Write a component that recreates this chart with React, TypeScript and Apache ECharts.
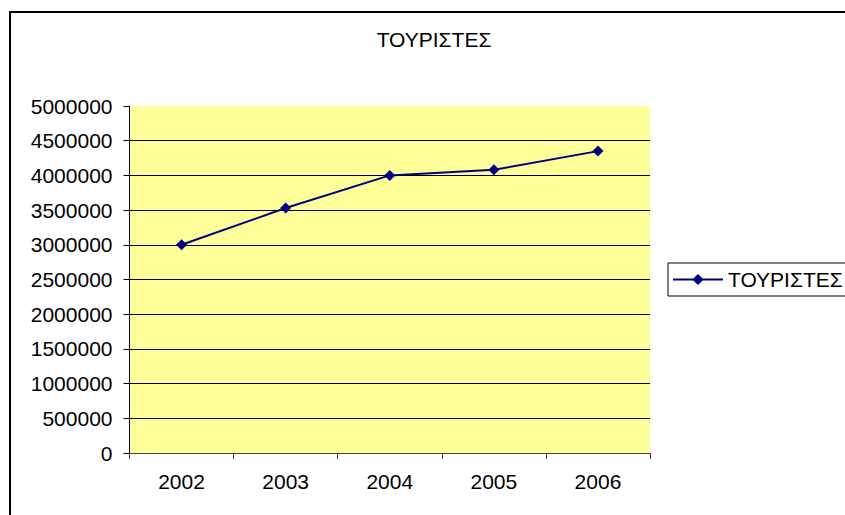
import React, { useEffect, useRef } from "react";
import * as echarts from "echarts";

const years: string[] = ["2002", "2003", "2004", "2005", "2006"];
const tourists: number[] = [3000000, 3530000, 4000000, 4080000, 4350000];
const seriesName = "ΤΟΥΡΙΣΤΕΣ";
const titleText = "ΤΟΥΡΙΣΤΕΣ";

const FONT = "'Liberation Sans', Arial, sans-serif";

export default function App() {
  const ref = useRef<HTMLDivElement>(null);
  useEffect(() => {
    if (!ref.current) return;
    const chart = echarts.init(ref.current, undefined, { renderer: "svg" });
    chart.setOption({
      animation: false,
      backgroundColor: "#ffffff",
      textStyle: { fontFamily: FONT },
      title: {
        text: titleText,
        left: 434,
        top: 29,
        padding: 0,
        textAlign: "center",
        textStyle: { fontFamily: FONT, fontSize: 21, fontWeight: "normal", color: "#000" },
      },
      graphic: [
        {
          type: "rect",
          shape: { x: 10, y: 12, width: 880, height: 540 },
          style: { fill: "none", stroke: "#000", lineWidth: 2 },
          silent: true,
          z: 100,
        },
      ],
      legend: {
        left: 668,
        top: 263,
        orient: "vertical",
        padding: [6, 30, 6, 4],
        itemWidth: 50,
        itemHeight: 14,
        itemGap: 5,
        borderColor: "#000",
        borderWidth: 1,
        textStyle: { fontFamily: FONT, fontSize: 21, color: "#000", padding: [0, 0, 0, 0] },
        data: [seriesName],
      },
      grid: {
        left: 129.5,
        right: 195,
        top: 106,
        bottom: 62,
        show: true,
        backgroundColor: "#FFFF99",
        borderWidth: 0,
        containLabel: false,
      },
      xAxis: {
        type: "category",
        data: years,
        boundaryGap: true,
        axisLine: { show: true, lineStyle: { color: "#404040", width: 1 } },
        axisTick: { show: true, length: 6, alignWithLabel: false, lineStyle: { color: "#404040" } },
        axisLabel: { fontFamily: FONT, fontSize: 21, color: "#000", margin: 18 },
        splitLine: { show: false },
      },
      yAxis: {
        type: "value",
        min: 0,
        max: 5000000,
        interval: 500000,
        axisLine: { show: true, lineStyle: { color: "#000", width: 1 } },
        axisTick: { show: true, length: 6, lineStyle: { color: "#000" } },
        axisLabel: {
          fontFamily: FONT,
          fontSize: 21,
          color: "#000",
          margin: 17,
          formatter: (v: number) => String(v),
        },
        splitLine: { show: true, showMaxLine: false, lineStyle: { color: "#000", width: 1 } },
      },
      series: [
        {
          name: seriesName,
          type: "line",
          data: tourists,
          symbol: "diamond",
          symbolSize: 11,
          lineStyle: { color: "#000080", width: 2 },
          itemStyle: { color: "#000080" },
        },
      ],
    });
    return () => chart.dispose();
  }, []);
  return (
    <div
      ref={ref}
      style={{ position: "fixed", left: 0, top: 0, width: 845, height: 515 }}
    />
  );
}
